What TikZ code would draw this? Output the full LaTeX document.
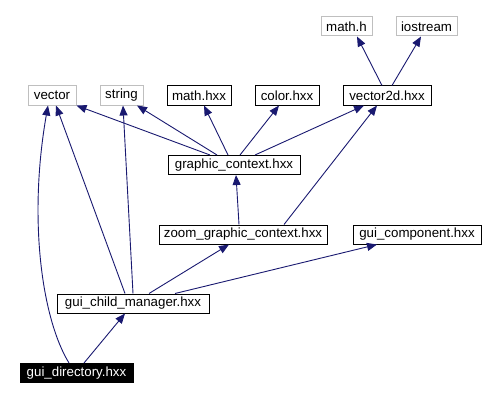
\documentclass[tikz,border=0pt]{standalone}
\usepackage{fontspec}
\setmainfont{Liberation Sans}
\usepackage{tikz}
\usetikzlibrary{arrows.meta}
\definecolor{edgeblue}{RGB}{25,25,112}
\definecolor{extgrey}{RGB}{191,191,191}
\tikzset{
    hdr/.style={shape=rectangle, draw=black, fill=white, line width=1pt, inner sep=0pt,
        minimum height=19pt, font=\fontsize{13.3}{14}\selectfont},
    exthdr/.style={hdr, draw=extgrey},
    roothdr/.style={hdr, fill=black, text=white},
    incl/.style={->, draw=edgeblue, line width=0.9pt},
    >={Triangle[length=10pt,width=8pt]}}

\begin{document}
\begin{tikzpicture}[x=1pt, y=-1pt]
        \useasboundingbox (0,0) rectangle (486,401);

            \node[exthdr, minimum width=51pt] (mathh) at (346.5,26.5) {math.h};
            \node[exthdr, minimum width=61pt] (iostream) at (426.5,26.5) {iostream};
            \node[exthdr, minimum width=48pt] (vector) at (52,95.5) {vector};
            \node[exthdr, minimum width=43pt] (string) at (121.5,95.5) {string};
            \node[hdr, minimum width=64pt] (mathhxx) at (199,95.5) {math.hxx};
            \node[hdr, minimum width=64pt] (color) at (287,95.5) {color.hxx};
            \node[hdr, minimum width=88pt] (vec2d) at (387,95.5) {vector2d.hxx};
            \node[hdr, minimum width=132pt] (gc) at (234,165) {graphic\_context.hxx};
            \node[hdr, minimum width=168pt] (zoomgc) at (243,234.5) {zoom\_graphic\_context.hxx};
            \node[hdr, minimum width=128pt] (guicomp) at (417,234.5) {gui\_component.hxx};
            \node[hdr, minimum width=152pt] (childmgr) at (133,303.5) {gui\_child\_manager.hxx};
            \node[roothdr, minimum width=113pt] (guidir) at (76.5,373) {gui\_directory.hxx};

            \draw[incl] ([xshift=-5pt]vec2d.north) -- ([xshift=10.5pt]mathh.south);
            \draw[incl] ([xshift=5pt]vec2d.north) -- ([xshift=-5.5pt]iostream.south);
            \draw[incl] ([xshift=-24pt]gc.north) -- (vector.south east);
            \draw[incl] ([xshift=-17pt]gc.north) -- ([xshift=15.5pt]string.south);
            \draw[incl] ([xshift=-6pt]gc.north) -- ([xshift=5pt]mathhxx.south);
            \draw[incl] ([xshift=6pt]gc.north) -- ([xshift=-8pt]color.south);
            \draw[incl] ([xshift=21pt]gc.north) -- ([xshift=-23pt]vec2d.south);
            \draw[incl] ([xshift=-4pt]zoomgc.north) -- ([xshift=2pt]gc.south);
            \draw[incl] ([xshift=41pt]zoomgc.north) -- ([xshift=-10pt]vec2d.south);
            \draw[incl] ([xshift=16pt]childmgr.north) -- ([xshift=-14pt]zoomgc.south);
            \draw[incl] ([xshift=42pt]childmgr.north) -- ([xshift=-40pt]guicomp.south);
            \draw[incl] ([xshift=-8pt]childmgr.north) -- ([xshift=4pt]vector.south);
            \draw[incl] (childmgr.north) -- ([xshift=1.5pt]string.south);
            \draw[incl] ([xshift=7.5pt]guidir.north) -- ([xshift=-8pt]childmgr.south);
            \draw[incl] ([xshift=-7.5pt]guidir.north) .. controls +(-27,-44) and +(-20,114) .. ([xshift=-4pt]vector.south);

        \end{tikzpicture}
\end{document}
